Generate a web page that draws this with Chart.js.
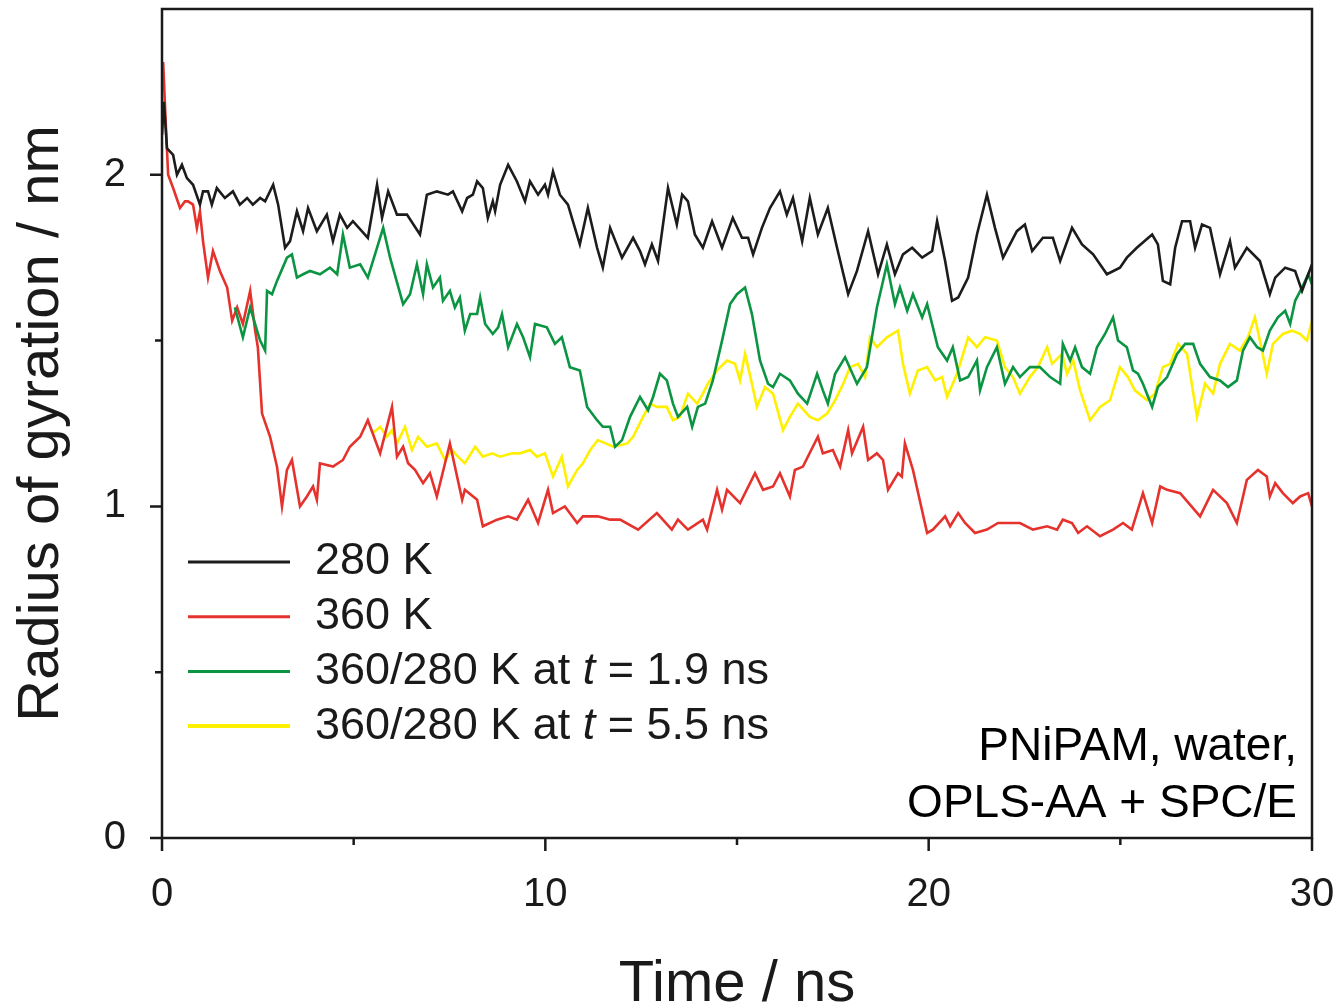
<!DOCTYPE html>
<html>
<head>
<meta charset="utf-8">
<script src="https://cdn.jsdelivr.net/npm/chart.js@4.4.1/dist/chart.umd.min.js"></script>
<style>
  html, body { margin: 0; padding: 0; background: #fff; }
  #wrap { width: 1339px; height: 1008px; }
</style>
</head>
<body>
<div id="wrap"><canvas id="rg" width="1339" height="1008"></canvas></div>
<script>
// radius of gyration (nm) vs time (ns) as [t, Rg]
const rg280 = [[0,2.12],[0.05,2.22],[0.13,2.08],[0.29,2.06],[0.39,2.00],[0.52,2.03],[0.65,1.99],[0.81,1.97],[0.99,1.91],[1.07,1.95],[1.20,1.95],[1.30,1.91],[1.43,1.96],[1.64,1.93],[1.85,1.95],[2.03,1.91],[2.22,1.93],[2.37,1.91],[2.56,1.93],[2.69,1.92],[2.90,1.97],[3.03,1.91],[3.21,1.78],[3.34,1.80],[3.52,1.89],[3.68,1.83],[3.81,1.90],[4.04,1.83],[4.30,1.88],[4.46,1.80],[4.64,1.88],[4.83,1.84],[4.98,1.86],[5.37,1.81],[5.61,1.97],[5.74,1.87],[5.90,1.95],[6.13,1.88],[6.39,1.88],[6.73,1.82],[6.91,1.94],[7.17,1.95],[7.46,1.94],[7.59,1.95],[7.83,1.89],[7.96,1.93],[8.11,1.94],[8.22,1.98],[8.37,1.96],[8.50,1.87],[8.63,1.92],[8.69,1.89],[8.82,1.97],[9.03,2.03],[9.26,1.98],[9.47,1.92],[9.60,1.98],[9.81,1.94],[9.99,1.97],[10.07,1.94],[10.20,2.01],[10.38,1.94],[10.59,1.91],[10.90,1.79],[11.11,1.90],[11.35,1.78],[11.50,1.72],[11.69,1.84],[12.00,1.75],[12.29,1.81],[12.47,1.77],[12.60,1.73],[12.78,1.79],[12.94,1.74],[13.20,1.96],[13.43,1.85],[13.57,1.94],[13.72,1.92],[13.90,1.82],[14.11,1.78],[14.35,1.86],[14.61,1.78],[14.89,1.87],[15.13,1.81],[15.29,1.81],[15.42,1.76],[15.65,1.84],[15.86,1.90],[16.12,1.95],[16.30,1.88],[16.46,1.93],[16.70,1.80],[16.90,1.93],[17.11,1.82],[17.37,1.90],[17.61,1.78],[17.90,1.64],[18.13,1.71],[18.42,1.83],[18.68,1.70],[18.91,1.79],[19.12,1.70],[19.33,1.76],[19.57,1.78],[19.83,1.75],[20.09,1.77],[20.22,1.86],[20.43,1.74],[20.61,1.62],[20.77,1.63],[21.03,1.69],[21.26,1.82],[21.52,1.94],[21.73,1.84],[21.94,1.75],[22.30,1.83],[22.51,1.85],[22.70,1.77],[22.98,1.81],[23.24,1.81],[23.43,1.74],[23.74,1.84],[24.00,1.79],[24.29,1.76],[24.65,1.70],[24.99,1.72],[25.17,1.75],[25.43,1.78],[25.83,1.82],[25.98,1.79],[26.11,1.68],[26.30,1.67],[26.43,1.78],[26.61,1.86],[26.82,1.86],[26.95,1.78],[27.13,1.85],[27.34,1.84],[27.60,1.70],[27.86,1.80],[27.99,1.72],[28.30,1.78],[28.64,1.74],[28.90,1.64],[29.04,1.69],[29.30,1.72],[29.56,1.71],[29.74,1.65],[30.00,1.73]]

const rg360 = [[0,2.30],[0.03,2.34],[0.10,2.15],[0.16,2.00],[0.29,1.96],[0.47,1.90],[0.60,1.92],[0.68,1.92],[0.81,1.91],[0.91,1.84],[0.99,1.89],[1.07,1.80],[1.20,1.69],[1.33,1.77],[1.51,1.71],[1.70,1.66],[1.83,1.56],[1.96,1.60],[2.11,1.55],[2.30,1.65],[2.43,1.53],[2.50,1.48],[2.61,1.28],[2.82,1.21],[3.00,1.12],[3.13,1.00],[3.26,1.11],[3.39,1.14],[3.60,1.00],[3.78,1.03],[3.94,1.06],[4.04,1.02],[4.12,1.13],[4.46,1.12],[4.72,1.14],[4.90,1.18],[5.17,1.21],[5.37,1.26],[5.69,1.16],[6.00,1.30],[6.13,1.15],[6.29,1.18],[6.42,1.13],[6.60,1.11],[6.81,1.07],[6.99,1.10],[7.17,1.03],[7.51,1.19],[7.83,1.02],[7.90,1.05],[8.22,1.02],[8.37,0.94],[8.74,0.96],[9.03,0.97],[9.26,0.96],[9.55,1.02],[9.81,0.95],[10.07,1.05],[10.20,0.98],[10.51,1.00],[10.83,0.95],[10.98,0.97],[11.37,0.97],[11.69,0.96],[11.95,0.96],[12.42,0.93],[12.91,0.98],[13.30,0.93],[13.46,0.96],[13.72,0.93],[14.11,0.96],[14.22,0.93],[14.48,1.05],[14.61,0.99],[14.74,1.05],[15.08,1.01],[15.47,1.10],[15.68,1.05],[15.94,1.06],[16.12,1.10],[16.38,1.03],[16.51,1.11],[16.72,1.12],[17.11,1.21],[17.24,1.16],[17.50,1.17],[17.69,1.12],[17.90,1.23],[18.00,1.16],[18.29,1.24],[18.42,1.14],[18.65,1.16],[18.81,1.14],[18.94,1.05],[19.20,1.10],[19.30,1.09],[19.38,1.19],[19.59,1.11],[19.96,0.92],[20.11,0.93],[20.43,0.97],[20.56,0.94],[20.77,0.98],[20.95,0.95],[21.21,0.92],[21.52,0.93],[21.81,0.95],[22.12,0.95],[22.38,0.95],[22.72,0.93],[23.09,0.94],[23.35,0.93],[23.50,0.96],[23.74,0.95],[23.90,0.92],[24.13,0.94],[24.47,0.91],[24.81,0.93],[25.07,0.95],[25.30,0.93],[25.59,1.04],[25.83,0.95],[26.04,1.06],[26.22,1.05],[26.56,1.04],[27.08,0.97],[27.42,1.05],[27.78,1.01],[28.04,0.95],[28.30,1.08],[28.59,1.11],[28.82,1.09],[28.90,1.03],[29.04,1.07],[29.24,1.04],[29.50,1.01],[29.69,1.03],[29.90,1.04],[30.00,1.00]]

const rgQuench19 = [[1.90,1.60],[2.11,1.51],[2.30,1.60],[2.48,1.53],[2.56,1.50],[2.69,1.47],[2.74,1.65],[2.87,1.64],[3.00,1.68],[3.26,1.75],[3.39,1.76],[3.52,1.69],[3.68,1.70],[3.86,1.71],[4.12,1.70],[4.38,1.72],[4.57,1.70],[4.72,1.82],[4.90,1.72],[5.17,1.73],[5.37,1.69],[5.77,1.84],[5.95,1.75],[6.29,1.61],[6.47,1.64],[6.65,1.73],[6.81,1.64],[6.91,1.73],[7.07,1.66],[7.25,1.69],[7.33,1.62],[7.51,1.65],[7.64,1.60],[7.77,1.63],[7.90,1.53],[8.04,1.58],[8.22,1.58],[8.30,1.63],[8.43,1.55],[8.63,1.52],[8.77,1.54],[8.87,1.58],[9.03,1.48],[9.26,1.55],[9.42,1.51],[9.60,1.45],[9.73,1.55],[10.04,1.54],[10.25,1.49],[10.43,1.51],[10.64,1.42],[10.90,1.41],[11.09,1.30],[11.35,1.26],[11.50,1.24],[11.69,1.24],[11.82,1.18],[12.00,1.20],[12.21,1.27],[12.47,1.33],[12.68,1.29],[12.81,1.33],[12.99,1.40],[13.17,1.38],[13.33,1.31],[13.46,1.27],[13.70,1.30],[13.83,1.24],[13.98,1.30],[14.17,1.31],[14.37,1.38],[14.61,1.50],[14.82,1.61],[15.00,1.64],[15.21,1.66],[15.39,1.58],[15.60,1.44],[15.81,1.37],[15.94,1.36],[16.12,1.40],[16.38,1.38],[16.59,1.34],[16.83,1.31],[17.09,1.40],[17.24,1.35],[17.37,1.31],[17.56,1.40],[17.82,1.45],[18.13,1.37],[18.39,1.42],[18.65,1.60],[18.91,1.73],[19.12,1.61],[19.25,1.66],[19.44,1.59],[19.59,1.64],[19.83,1.57],[19.96,1.61],[20.24,1.48],[20.48,1.44],[20.63,1.48],[20.82,1.38],[21.03,1.39],[21.26,1.44],[21.34,1.35],[21.52,1.42],[21.78,1.48],[21.99,1.37],[22.20,1.42],[22.38,1.39],[22.64,1.42],[22.90,1.42],[23.17,1.39],[23.43,1.37],[23.50,1.49],[23.69,1.44],[23.82,1.48],[24.00,1.42],[24.21,1.40],[24.39,1.48],[24.60,1.52],[24.81,1.57],[24.94,1.50],[25.17,1.48],[25.33,1.41],[25.46,1.40],[25.59,1.37],[25.83,1.30],[25.98,1.36],[26.22,1.39],[26.48,1.46],[26.69,1.49],[26.90,1.49],[27.08,1.43],[27.34,1.39],[27.60,1.38],[27.81,1.36],[28.04,1.38],[28.20,1.47],[28.38,1.51],[28.57,1.48],[28.72,1.47],[28.90,1.53],[29.11,1.57],[29.30,1.59],[29.43,1.55],[29.56,1.62],[29.74,1.66],[29.90,1.70],[30.00,1.67]]

const rgQuench55 = [[5.48,1.22],[5.69,1.24],[5.87,1.21],[6.00,1.23],[6.13,1.19],[6.34,1.24],[6.52,1.17],[6.68,1.21],[6.91,1.18],[7.17,1.19],[7.38,1.14],[7.57,1.17],[7.72,1.15],[7.90,1.13],[8.17,1.18],[8.37,1.15],[8.61,1.16],[8.82,1.15],[9.13,1.16],[9.34,1.16],[9.60,1.17],[9.78,1.15],[9.99,1.16],[10.20,1.09],[10.43,1.15],[10.59,1.06],[10.83,1.11],[10.98,1.13],[11.17,1.17],[11.37,1.20],[11.77,1.18],[12.14,1.19],[12.29,1.21],[12.55,1.27],[12.73,1.31],[12.91,1.30],[13.17,1.30],[13.33,1.26],[13.51,1.27],[13.72,1.34],[13.96,1.31],[14.11,1.34],[14.24,1.37],[14.48,1.41],[14.74,1.44],[14.95,1.43],[15.08,1.38],[15.21,1.46],[15.39,1.37],[15.52,1.30],[15.73,1.36],[15.94,1.34],[16.20,1.23],[16.38,1.27],[16.59,1.31],[16.90,1.27],[17.11,1.26],[17.35,1.28],[17.56,1.32],[17.77,1.37],[17.95,1.42],[18.16,1.43],[18.34,1.39],[18.47,1.51],[18.65,1.48],[18.91,1.51],[19.20,1.53],[19.33,1.43],[19.51,1.34],[19.72,1.41],[19.96,1.42],[20.17,1.38],[20.35,1.39],[20.48,1.33],[20.74,1.40],[21.03,1.51],[21.26,1.48],[21.47,1.51],[21.78,1.50],[21.99,1.42],[22.20,1.39],[22.38,1.34],[22.64,1.39],[22.85,1.42],[23.09,1.48],[23.22,1.43],[23.48,1.46],[23.61,1.40],[23.77,1.44],[23.95,1.35],[24.21,1.26],[24.47,1.30],[24.73,1.32],[24.99,1.42],[25.20,1.39],[25.38,1.35],[25.70,1.32],[25.90,1.34],[26.11,1.42],[26.30,1.43],[26.51,1.49],[26.74,1.46],[27.00,1.27],[27.21,1.37],[27.42,1.34],[27.60,1.43],[27.86,1.49],[28.12,1.47],[28.33,1.51],[28.51,1.57],[28.64,1.50],[28.82,1.40],[28.98,1.49],[29.24,1.52],[29.48,1.53],[29.69,1.52],[29.87,1.50],[30.00,1.56]]

const seriesLabels = ["280 K", "360 K", "360/280 K at t = 1.9 ns", "360/280 K at t = 5.5 ns"]
const seriesColors = ["#1c1c1c", "#e5322c", "#0b9442", "#fff000"]
const xTicks = [0, 5, 10, 15, 20, 25, 30]
const yTicks = [0, 0.5, 1, 1.5, 2]
const noteLines = ["PNiPAM, water,", "OPLS-AA + SPC/E"]

const INK = "#1a1a1a"
const FONT = "'Liberation Sans', Arial, Helvetica, sans-serif"

const toPoints = arr => arr.map(([t, r]) => ({ x: t, y: r }))

// frame, outward ticks, legend and note, drawn on top of the lines
const decorations = {
  id: "decorations",
  afterDatasetsDraw(chart) {
    const { ctx, chartArea: a, scales: { x, y } } = chart
    ctx.save()
    ctx.strokeStyle = INK
    ctx.lineWidth = 2.5
    ctx.strokeRect(a.left, a.top, a.right - a.left, a.bottom - a.top)

    ctx.beginPath()
    xTicks.forEach(v => {
      const px = x.getPixelForValue(v)
      const len = v % 10 === 0 ? 13 : 7
      ctx.moveTo(px, a.bottom)
      ctx.lineTo(px, a.bottom + len)
    })
    yTicks.forEach(v => {
      const py = y.getPixelForValue(v)
      const len = Number.isInteger(v) ? 12 : 7
      ctx.moveTo(a.left, py)
      ctx.lineTo(a.left - len, py)
    })
    ctx.stroke()

    // legend
    const lx = a.left + 26
    const rowTop = a.top + 553
    const rowGap = 54.7
    ctx.font = `45px ${FONT}`
    ctx.textBaseline = "middle"
    ctx.textAlign = "left"
    chart.data.datasets.forEach((ds, i) => {
      const ly = rowTop + i * rowGap
      ctx.strokeStyle = ds.borderColor
      ctx.lineWidth = i === 3 ? 4 : 3
      ctx.beginPath()
      ctx.moveTo(lx, ly)
      ctx.lineTo(lx + 102, ly)
      ctx.stroke()

      ctx.fillStyle = INK
      const label = ds.label
      const tPos = label.indexOf(" t ")
      let tx = lx + 127
      if (tPos < 0) {
        ctx.fillText(label, tx, ly)
      } else {
        const before = label.slice(0, tPos + 1)
        const after = label.slice(tPos + 2)
        ctx.font = `45px ${FONT}`
        ctx.fillText(before, tx, ly)
        tx += ctx.measureText(before).width
        ctx.font = `italic 45px ${FONT}`
        ctx.fillText("t", tx, ly)
        tx += ctx.measureText("t").width
        ctx.font = `45px ${FONT}`
        ctx.fillText(after, tx, ly)
      }
    })

    // system note, bottom right
    ctx.font = `46px ${FONT}`
    ctx.textAlign = "right"
    ctx.textBaseline = "alphabetic"
    ctx.fillStyle = "#000"
    noteLines.forEach((line, i) => {
      ctx.fillText(line, a.right - 15, a.top + 751 + i * 57)
    })
    ctx.restore()
  }
}

const datasets = [rg280, rg360, rgQuench19, rgQuench55].map((arr, i) => ({
  label: seriesLabels[i],
  data: toPoints(arr),
  borderColor: seriesColors[i],
  backgroundColor: seriesColors[i],
  borderWidth: 2.6,
  pointRadius: 0,
  tension: 0,
  fill: false,
  // black on top, then green, red, yellow at the bottom
  order: [0, 2, 1, 3][i]
}))

new Chart(document.getElementById("rg"), {
  type: "line",
  data: { datasets },
  options: {
    responsive: false,
    animation: false,
    devicePixelRatio: 1,
    layout: { padding: { top: 9, right: 27, left: 0, bottom: 0 } },
    plugins: { legend: { display: false }, tooltip: { enabled: false }, title: { display: false } },
    scales: {
      x: {
        type: "linear",
        min: 0,
        max: 30,
        grid: { display: false, drawTicks: false },
        border: { display: false },
        ticks: {
          stepSize: 5,
          autoSkip: false,
          maxRotation: 0,
          padding: 33,
          color: INK,
          font: { family: FONT, size: 40 },
          callback: v => (v % 10 === 0 ? v : "")
        },
        title: {
          display: true,
          text: "Time / ns",
          color: INK,
          font: { family: FONT, size: 58 },
          padding: { top: 0, bottom: -12 }
        },
        afterFit: s => { s.height = 170; s.paddingLeft = 0; s.paddingRight = 0 }
      },
      y: {
        min: 0,
        max: 2.5,
        grid: { display: false, drawTicks: false },
        border: { display: false },
        ticks: {
          stepSize: 0.5,
          padding: 36,
          color: INK,
          font: { family: FONT, size: 40 },
          callback: v => (Number.isInteger(v) ? v : "")
        },
        title: {
          display: true,
          text: "Radius of gyration / nm",
          color: INK,
          font: { family: FONT, size: 58 },
          padding: { top: 7, bottom: 0 }
        },
        afterFit: s => { s.width = 162; s.paddingTop = 0; s.paddingBottom = 0 }
      }
    }
  },
  plugins: [decorations]
})
</script>
</body>
</html>
